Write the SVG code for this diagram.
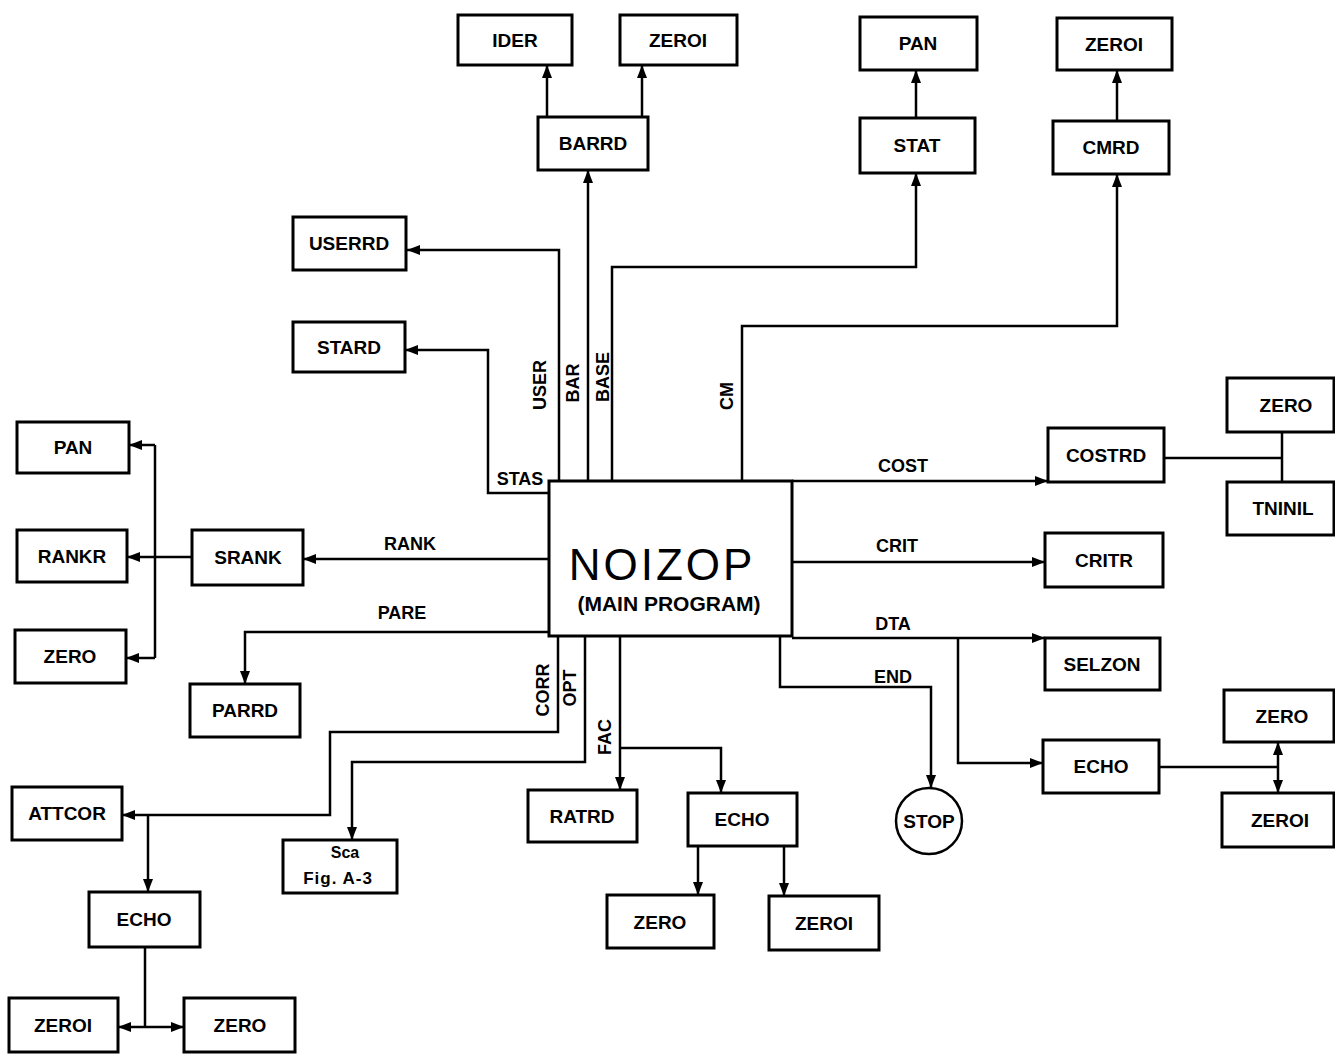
<svg xmlns="http://www.w3.org/2000/svg" width="1335" height="1054" viewBox="0 0 1335 1054">
<style>
.b{fill:#fff;stroke:#000;stroke-width:3}
.t{font-family:"Liberation Sans",Arial,sans-serif;font-weight:bold;font-size:19px;text-anchor:middle;fill:#000}
.l{font-family:"Liberation Sans",Arial,sans-serif;font-weight:bold;font-size:18px;text-anchor:middle;fill:#000}
.c{fill:none;stroke:#000;stroke-width:2.5}
</style>
<defs>
<marker id="a" markerUnits="userSpaceOnUse" markerWidth="14" markerHeight="12" refX="13" refY="6" orient="auto"><path d="M0,1 L13,6 L0,11 Z" fill="#000"/></marker>
</defs>
<rect width="1335" height="1054" fill="#fff"/>
<g id="connectors">
<path class="c" d="M559,481 V250 H407" marker-end="url(#a)"/>
<path class="c" d="M588,481 V170" marker-end="url(#a)"/>
<path class="c" d="M547,117 V65" marker-end="url(#a)"/>
<path class="c" d="M642,117 V65" marker-end="url(#a)"/>
<path class="c" d="M612,481 V267 H916 V173" marker-end="url(#a)"/>
<path class="c" d="M916,118 V70" marker-end="url(#a)"/>
<path class="c" d="M742,481 V326 H1117 V174" marker-end="url(#a)"/>
<path class="c" d="M1117,121 V70" marker-end="url(#a)"/>
<path class="c" d="M549,493 H488 V350 H405" marker-end="url(#a)"/>
<path class="c" d="M549,559 H303" marker-end="url(#a)"/>
<path class="c" d="M192,557 H155"/>
<path class="c" d="M155,445 V658"/>
<path class="c" d="M155,445 H129" marker-end="url(#a)"/>
<path class="c" d="M155,557 H127" marker-end="url(#a)"/>
<path class="c" d="M155,658 H126" marker-end="url(#a)"/>
<path class="c" d="M549,632 H245 V684" marker-end="url(#a)"/>
<path class="c" d="M558,636 V732 H330 V815 H122" marker-end="url(#a)"/>
<path class="c" d="M148,815 V892" marker-end="url(#a)"/>
<path class="c" d="M585,636 V762 H352 V840" marker-end="url(#a)"/>
<path class="c" d="M145,947 V1027"/>
<path class="c" d="M145,1027 H118" marker-end="url(#a)"/>
<path class="c" d="M145,1027 H184" marker-end="url(#a)"/>
<path class="c" d="M620,636 V790" marker-end="url(#a)"/>
<path class="c" d="M620,748 H721 V793" marker-end="url(#a)"/>
<path class="c" d="M698,846 V895" marker-end="url(#a)"/>
<path class="c" d="M784,846 V896" marker-end="url(#a)"/>
<path class="c" d="M780,636 V687 H931 V788" marker-end="url(#a)"/>
<path class="c" d="M792,638 H1045" marker-end="url(#a)"/>
<path class="c" d="M958,638 V763 H1043" marker-end="url(#a)"/>
<path class="c" d="M1159,767 H1278"/>
<path class="c" d="M1278,767 V742" marker-end="url(#a)"/>
<path class="c" d="M1278,767 V793" marker-end="url(#a)"/>
<path class="c" d="M792,481 H1048" marker-end="url(#a)"/>
<path class="c" d="M792,562 H1045" marker-end="url(#a)"/>
<path class="c" d="M1164,458 H1282"/>
<path class="c" d="M1282,432 V482"/>
<text class="l" x="520" y="485">STAS</text>
<text class="l" x="410" y="550">RANK</text>
<text class="l" x="402" y="619">PARE</text>
<text class="l" x="903" y="472">COST</text>
<text class="l" x="897" y="552">CRIT</text>
<text class="l" x="893" y="630">DTA</text>
<text class="l" x="893" y="683">END</text>
<text class="l" transform="translate(540,385) rotate(-90)" x="0" y="6">USER</text>
<text class="l" transform="translate(573,383) rotate(-90)" x="0" y="6">BAR</text>
<text class="l" transform="translate(603,377) rotate(-90)" x="0" y="6">BASE</text>
<text class="l" transform="translate(727,396) rotate(-90)" x="0" y="6">CM</text>
<text class="l" transform="translate(543,690) rotate(-90)" x="0" y="6">CORR</text>
<text class="l" transform="translate(570,688) rotate(-90)" x="0" y="6">OPT</text>
<text class="l" transform="translate(605,737) rotate(-90)" x="0" y="6">FAC</text>
</g>
<g id="main"><rect class="b" x="549" y="481" width="243" height="155"/>
<text x="662" y="580" style="font-family:'Liberation Sans',Arial,sans-serif;font-size:44px;text-anchor:middle;letter-spacing:3px">NOIZOP</text>
<text x="669" y="611" class="t" style="font-size:21px">(MAIN PROGRAM)</text></g>
<g id="ider"><rect class="b" x="458" y="15" width="114" height="50"/><text class="t" x="515" y="47">IDER</text></g>
<g id="zeroi1"><rect class="b" x="620" y="15" width="117" height="50"/><text class="t" x="678" y="47">ZEROI</text></g>
<g id="barrd"><rect class="b" x="538" y="117" width="110" height="53"/><text class="t" x="593" y="150">BARRD</text></g>
<g id="pan1"><rect class="b" x="860" y="17" width="117" height="53"/><text class="t" x="918" y="50">PAN</text></g>
<g id="stat"><rect class="b" x="860" y="118" width="115" height="55"/><text class="t" x="917" y="152">STAT</text></g>
<g id="zeroi2"><rect class="b" x="1057" y="18" width="115" height="52"/><text class="t" x="1114" y="51">ZEROI</text></g>
<g id="cmrd"><rect class="b" x="1053" y="121" width="116" height="53"/><text class="t" x="1111" y="154">CMRD</text></g>
<g id="userrd"><rect class="b" x="293" y="217" width="113" height="53"/><text class="t" x="349" y="250">USERRD</text></g>
<g id="stard"><rect class="b" x="293" y="322" width="112" height="50"/><text class="t" x="349" y="354">STARD</text></g>
<g id="pan2"><rect class="b" x="17" y="422" width="112" height="51"/><text class="t" x="73" y="454">PAN</text></g>
<g id="rankr"><rect class="b" x="17" y="530" width="110" height="52"/><text class="t" x="72" y="563">RANKR</text></g>
<g id="zero1"><rect class="b" x="15" y="630" width="111" height="53"/><text class="t" x="70" y="663">ZERO</text></g>
<g id="srank"><rect class="b" x="192" y="530" width="111" height="55"/><text class="t" x="248" y="564">SRANK</text></g>
<g id="parrd"><rect class="b" x="190" y="684" width="110" height="53"/><text class="t" x="245" y="717">PARRD</text></g>
<g id="attcor"><rect class="b" x="12" y="787" width="110" height="53"/><text class="t" x="67" y="820">ATTCOR</text></g>
<g id="sca"><rect class="b" x="283" y="840" width="114" height="53"/><text class="l" style="font-size:16px" x="345" y="858">Sca</text><text class="l" style="font-size:17px;letter-spacing:1px" x="338" y="884">Fig. A-3</text></g>
<g id="echo1"><rect class="b" x="89" y="892" width="111" height="55"/><text class="t" x="144" y="926">ECHO</text></g>
<g id="zeroi3"><rect class="b" x="9" y="998" width="109" height="54"/><text class="t" x="63" y="1032">ZEROI</text></g>
<g id="zero2"><rect class="b" x="184" y="998" width="111" height="54"/><text class="t" x="240" y="1032">ZERO</text></g>
<g id="ratrd"><rect class="b" x="528" y="790" width="109" height="52"/><text class="t" x="582" y="823">RATRD</text></g>
<g id="echo2"><rect class="b" x="688" y="793" width="109" height="53"/><text class="t" x="742" y="826">ECHO</text></g>
<g id="zero3"><rect class="b" x="607" y="895" width="107" height="53"/><text class="t" x="660" y="929">ZERO</text></g>
<g id="zeroi4"><rect class="b" x="769" y="896" width="110" height="54"/><text class="t" x="824" y="930">ZEROI</text></g>
<g id="stop"><circle cx="929" cy="821" r="33" fill="#fff" stroke="#000" stroke-width="2.5"/><text class="t" x="929" y="828">STOP</text></g>
<g id="costrd"><rect class="b" x="1048" y="428" width="116" height="54"/><text class="t" x="1106" y="462">COSTRD</text></g>
<g id="zero4"><rect class="b" x="1227" y="378" width="107" height="54"/><text class="t" x="1286" y="412">ZERO</text></g>
<g id="tninil"><rect class="b" x="1227" y="482" width="107" height="53"/><text class="t" x="1283" y="515">TNINIL</text></g>
<g id="critr"><rect class="b" x="1045" y="533" width="118" height="54"/><text class="t" x="1104" y="567">CRITR</text></g>
<g id="selzon"><rect class="b" x="1045" y="638" width="115" height="52"/><text class="t" x="1102" y="671">SELZON</text></g>
<g id="echo3"><rect class="b" x="1043" y="740" width="116" height="53"/><text class="t" x="1101" y="773">ECHO</text></g>
<g id="zero5"><rect class="b" x="1224" y="690" width="110" height="52"/><text class="t" x="1282" y="723">ZERO</text></g>
<g id="zeroi5"><rect class="b" x="1222" y="793" width="112" height="54"/><text class="t" x="1280" y="827">ZEROI</text></g>
</svg>
